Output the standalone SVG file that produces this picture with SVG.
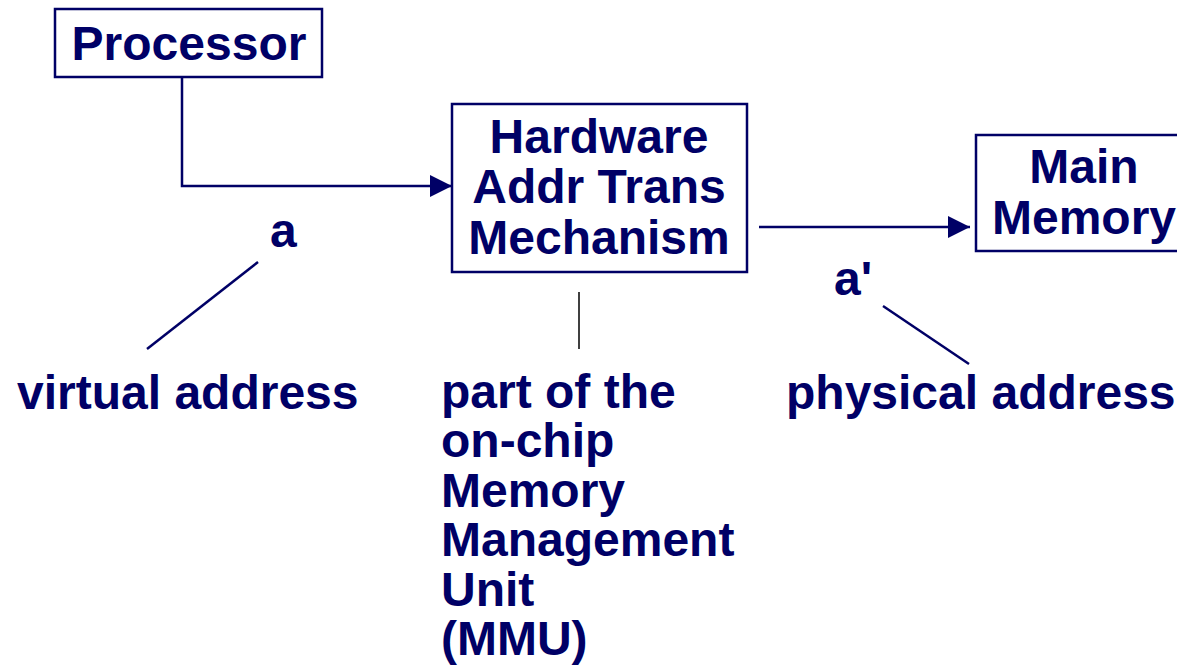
<svg xmlns="http://www.w3.org/2000/svg" width="1177" height="666" viewBox="0 0 1177 666">
<style>
.box{fill:#fff;stroke:#000066;stroke-width:2.5}
.t{font-family:"Liberation Sans",Arial,sans-serif;font-weight:bold;font-size:48px;fill:#000066}
.c{text-anchor:middle}
.ln{stroke:#000066;stroke-width:2.5;fill:none}
</style>
<defs>
<marker id="ah2" viewBox="0 0 22 22" refX="22" refY="11" markerWidth="22" markerHeight="22" markerUnits="userSpaceOnUse" orient="auto">
<path d="M0,0 L22,11 L0,22 z" fill="#000066"/>
</marker>
</defs>
<rect width="1177" height="666" fill="#fff"/>
<g id="connectors">
<path class="ln" d="M182,77 V186 H452" marker-end="url(#ah2)"/>
<path class="ln" d="M759,227 H970" marker-end="url(#ah2)"/>
<line class="ln" x1="258" y1="262" x2="147" y2="349"/>
<line class="ln" x1="883" y1="306" x2="969" y2="364"/>
<line x1="579" y1="292" x2="579" y2="349" stroke="#000" stroke-width="1.5"/>
</g>
<g id="processor">
<rect class="box" x="55" y="9" width="267" height="68"/>
<text class="t c" x="189" y="60">Processor</text>
</g>
<g id="mmu">
<rect class="box" x="452" y="104" width="295" height="168"/>
<text class="t c" x="599" y="153">Hardware</text>
<text class="t c" x="599" y="203">Addr Trans</text>
<text class="t c" x="599" y="254">Mechanism</text>
</g>
<g id="memory">
<rect class="box" x="976" y="135" width="215" height="116"/>
<text class="t c" x="1084" y="183">Main</text>
<text class="t c" x="1084" y="234">Memory</text>
</g>
<g id="labels">
<text class="t" x="270" y="247">a</text>
<text class="t" x="834" y="295">a'</text>
<text class="t" x="17" y="409">virtual address</text>
<text class="t" x="786" y="409">physical address</text>
<text class="t" x="441" y="408">part of the</text>
<text class="t" x="441" y="457">on-chip</text>
<text class="t" x="441" y="507">Memory</text>
<text class="t" x="441" y="556">Management</text>
<text class="t" x="441" y="606">Unit</text>
<text class="t" x="441" y="655">(MMU)</text>
</g>
</svg>
